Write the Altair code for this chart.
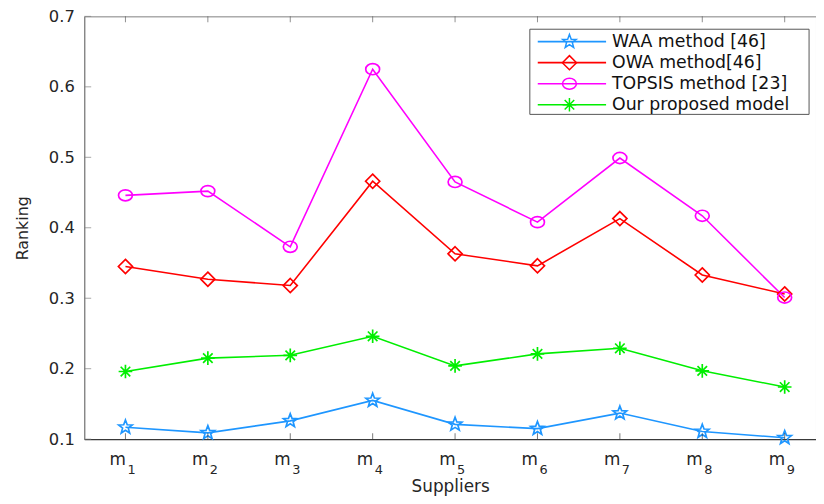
import math
import altair as alt
import pandas as pd

# ---------------- data ----------------
suppliers = [1, 2, 3, 4, 5, 6, 7, 8, 9]
sub_labels = ["1", "2", "3", "4", "5", "6", "7", "8", "9"]
series_names = ["WAA method [46]", "OWA method[46]", "TOPSIS method [23]", "Our proposed model"]
waa = [0.117, 0.109, 0.126, 0.155, 0.121, 0.115, 0.137, 0.111, 0.102]
owa = [0.345, 0.327, 0.318, 0.466, 0.363, 0.346, 0.413, 0.333, 0.306]
topsis = [0.446, 0.452, 0.373, 0.625, 0.465, 0.408, 0.499, 0.417, 0.301]
ours = [0.196, 0.215, 0.219, 0.246, 0.204, 0.221, 0.229, 0.197, 0.174]
y_ticks = [0.1, 0.2, 0.3, 0.4, 0.5, 0.6, 0.7]
colors = ["#1e96ff", "#ff0000", "#ff00ff", "#00ee00"]

rows = []
for name, vals in zip(series_names, [waa, owa, topsis, ours]):
    for i, v in zip(suppliers, vals):
        rows.append({"idx": i, "series": name, "value": v})
df = pd.DataFrame(rows)
legend_df = pd.DataFrame({"series": series_names})
tick_df = pd.DataFrame({"v": y_ticks})
xt_df = pd.DataFrame({"idx": suppliers, "s": sub_labels})
box_df = pd.DataFrame({"a": [0]})

# ---------------- marker shapes ----------------
star_pts = []
for k in range(10):
    r = 1.0 if k % 2 == 0 else 0.42
    a = math.radians(-90 + 36 * k)
    star_pts.append(f"{r*math.cos(a):.3f},{r*math.sin(a):.3f}")
star = "M" + "L".join(star_pts) + "Z"
diamond = "M0,-1L1,0L0,1L-1,0Z"
ellipse = "M-1,0A1,0.8,0,1,1,1,0A1,0.8,0,1,1,-1,0Z"
asterisk = "M-1,0L1,0M0,-1L0,1M-0.7,-0.7L0.7,0.7M-0.7,0.7L0.7,-0.7"
shape_paths = [star, diamond, ellipse, asterisk]
sizes = [210, 190, 170, 150]

W, H = 739, 427
TOP = 6
FONT = "DejaVu Sans"

color_scale = alt.Scale(domain=series_names, range=colors)
shape_scale = alt.Scale(domain=series_names, range=shape_paths)
size_scale = alt.Scale(domain=series_names, range=sizes)
x_scale = alt.Scale(domain=[0.5, 9.38], nice=False, zero=False)
y_scale = alt.Scale(domain=[0.1, 0.7], nice=False, zero=False)
leg_y = alt.Scale(type="point", domain=series_names, range=[25.5, 89.3], padding=0)

color_enc = alt.Color("series:N", scale=color_scale, legend=None)
shape_enc = alt.Shape("series:N", scale=shape_scale, legend=None)
size_enc = alt.Size("series:N", scale=size_scale, legend=None)

x_axis = alt.Axis(values=suppliers, labelExpr="'m'", labelAlign="right",
                  labelFontSize=17, labelFont=FONT, labelColor="#262626", labelPadding=13,
                  ticks=False, grid=False, domainColor="#262626", domainWidth=1,
                  title="Suppliers", titleFont=FONT, titleFontSize=17, titleFontWeight="normal",
                  titleColor="#262626", titlePadding=11)
y_axis = alt.Axis(values=y_ticks, format=".1f", labelFontSize=16.5, labelFont=FONT,
                  labelColor="#262626", labelPadding=10, ticks=False, grid=False,
                  domainColor="#808080", domainWidth=1,
                  title="Ranking", titleFont=FONT, titleFontSize=16, titleFontWeight="normal",
                  titleColor="#262626", titlePadding=18)

X = alt.X("idx:Q", scale=x_scale, axis=x_axis, title="Suppliers")

lines = alt.Chart(df).mark_line(strokeWidth=1.6).encode(
    x=X,
    y=alt.Y("value:Q", scale=y_scale, axis=y_axis),
    color=color_enc,
)
points = alt.Chart(df).mark_point(filled=False, strokeWidth=1.7, opacity=1).encode(
    x=X,
    y=alt.Y("value:Q", scale=y_scale, axis=None),
    color=color_enc, shape=shape_enc, size=size_enc,
)
ytick = alt.Chart(tick_df).mark_tick(orient="horizontal", size=7, thickness=1, color="#808080").encode(
    y=alt.Y("v:Q", scale=y_scale, axis=None), x=alt.value(3.5)
)
xtick_b = alt.Chart(xt_df).mark_tick(orient="vertical", size=6, thickness=1, color="#404040").encode(
    x=X, y=alt.value(H - 3)
)
xtick_t = alt.Chart(xt_df).mark_tick(orient="vertical", size=6, thickness=1, color="#606060").encode(
    x=X, y=alt.value(3)
)
subs = alt.Chart(xt_df).mark_text(font=FONT, fontSize=13, align="left", baseline="alphabetic",
                                  dx=2, color="#262626").encode(
    x=X, y=alt.value(H + 35), text="s:N"
)

# legend
box = alt.Chart(box_df).mark_rect(fill="white", stroke="#555555", strokeWidth=1).encode(
    x=alt.value(450), x2=alt.value(732), y=alt.value(13), y2=alt.value(99)
)
leg_rule = alt.Chart(legend_df).mark_rule(strokeWidth=1.6).encode(
    x=alt.value(458), x2=alt.value(527), y=alt.Y("series:N", scale=leg_y, axis=None), color=color_enc
)
leg_pt = alt.Chart(legend_df).mark_point(filled=False, strokeWidth=1.5, opacity=1).encode(
    x=alt.value(490), y=alt.Y("series:N", scale=leg_y, axis=None),
    color=color_enc, shape=shape_enc, size=size_enc,
)
leg_txt = alt.Chart(legend_df).mark_text(font=FONT, fontSize=17.5, align="left", baseline="middle",
                                         color="#111111").encode(
    x=alt.value(533), y=alt.Y("series:N", scale=leg_y, axis=None), text="series:N"
)

chart = alt.layer(
    lines, points, ytick, xtick_b, xtick_t, subs, box, leg_rule, leg_pt, leg_txt
).resolve_scale(y="independent").properties(
    width=W, height=H,
    autosize=alt.AutoSizeParams(type="none"),
    padding={"left": 77, "top": TOP, "right": 0, "bottom": 60},
    background="white",
).configure_view(stroke="#808080", strokeWidth=1)

chart.save("out.html", embed_options={"renderer": "svg", "actions": False})
